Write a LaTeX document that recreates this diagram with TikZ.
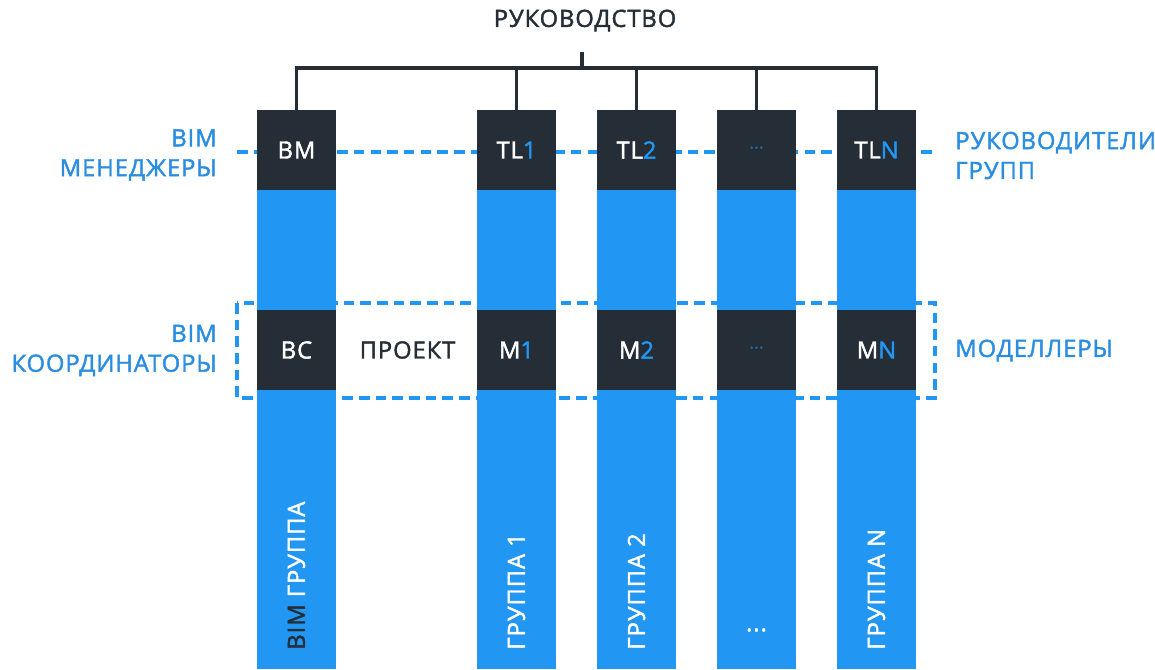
\documentclass[tikz,border=0pt]{standalone}
\usepackage{fontspec}
\setmainfont{Open Sans}[LetterSpace=4,FakeBold=1.8]
\usetikzlibrary{positioning}
\definecolor{bimblue}{HTML}{2196F3}
\definecolor{bimtext}{HTML}{2A8DE0}
\definecolor{bimdark}{HTML}{252E37}
\newcommand{\lbl}{\fontsize{13.5}{17}\selectfont}
\newcommand{\hl}[1]{\textcolor{bimblue}{#1}}
\tikzset{
  colbar/.style={fill=bimblue,minimum width=1.58cm,minimum height=11.18cm,inner sep=0,anchor=north},
  lead/.style={fill=bimdark,minimum width=1.58cm,minimum height=1.6cm,inner sep=0,text=white,font=\lbl},
  side/.style={text=bimtext,font=\lbl,inner sep=0},
  plain/.style={text=bimdark,font=\lbl,inner sep=0},
  grp/.style={rotate=90,anchor=west,text=white,font=\lbl,inner sep=0},
  tree/.style={draw=bimdark,line width=2.2pt},
  lane/.style={bimblue,line width=2.3pt,dash pattern=on 6pt off 3.5pt},
}

\begin{document}
\begin{tikzpicture}[x=0.02cm,y=-0.02cm]
\useasboundingbox (0,0) rectangle (1155,669);
%% five streams: BIM group, groups 1, 2, ..., N
\foreach \n/\cx in {bm/296.5,g1/516.5,g2/636.5,gx/756.5,gn/876.5}
  \node[colbar] (bar\n) at (\cx,110) {};
% dashed lanes: group leads (line) and project (frame)
\draw[lane] (237,152) -- (936,152);
\draw[lane] (237,303) rectangle (935,398);
% leads row
\node[lead] (bm)  at (296.5,150) {BM};
\node[lead] (tl1) at (516.5,150) {TL\hl{1}};
\node[lead] (tl2) at (636.5,150) {TL\hl{2}};
\node[lead,text=bimblue!60!bimdark,font=\small] (tlx) at (756.5,150) {···};
\node[lead] (tln) at (876.5,150) {TL\hl{N}};
% modellers row
\node[lead] (bc) at (296.5,350) {BC};
\node[lead] (m1) at (516.5,350) {M\hl{1}};
\node[lead] (m2) at (636.5,350) {M\hl{2}};
\node[lead,text=bimblue!60!bimdark,font=\small] (mx) at (756.5,350) {···};
\node[lead] (mn) at (876.5,350) {M\hl{N}};
\node[plain] (proj) at (407.5,350) {ПРОЕКТ};
% management tree
\node[plain] (boss) at (585,20.5) {РУКОВОДСТВО};
\coordinate (hub) at (582,68);
\draw[tree] (hub) -- ++(0,-16);
\foreach \t in {bm,tl1,tl2,tlx,tln}
  \draw[tree] (hub) -| (\t.north);
% side captions
\node[side,align=right,anchor=east] (mgr) at (217,155) {BIM\\МЕНЕДЖЕРЫ};
\node[side,align=right,anchor=east] (crd) at (217,350.5) {BIM\\КООРДИНАТОРЫ};
\node[side,align=left,anchor=west] (tls) at (955,155.5) {РУКОВОДИТЕЛИ\\ГРУПП};
\node[side,anchor=west] (mdl) at (955,350.5) {МОДЕЛЛЕРЫ};
% group names, read bottom-up
\node[grp] (nbm) at (296.5,650) {\textcolor{bimdark}{BIM} ГРУППА};
\node[grp] (n1) at (516.5,650) {ГРУППА 1};
\node[grp] (n2) at (636.5,650) {ГРУППА 2};
\node[plain,text=white] (nx) at (756.5,630) {...};
\node[grp] (nn) at (876.5,650) {ГРУППА N};
\end{tikzpicture}
\end{document}
